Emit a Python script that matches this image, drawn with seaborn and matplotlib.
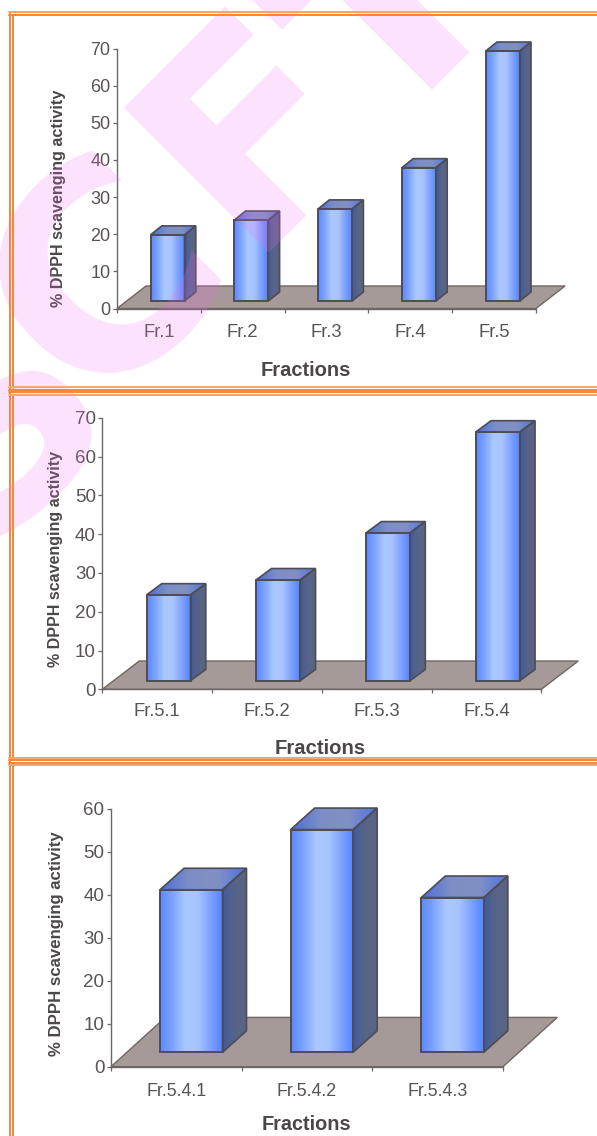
import numpy as np
import pandas as pd
import seaborn as sns
import matplotlib
matplotlib.use("Agg")
import matplotlib.pyplot as plt
from matplotlib.colors import LinearSegmentedColormap
from matplotlib.patches import Polygon
from matplotlib.lines import Line2D

W, H = 597, 1136

# ---------- data ----------
cats1 = ["Fr.1", "Fr.2", "Fr.3", "Fr.4", "Fr.5"]
vals1 = [17.8, 21.8, 24.8, 35.9, 67.3]
cats2 = ["Fr.5.1", "Fr.5.2", "Fr.5.3", "Fr.5.4"]
vals2 = [22.1, 26.0, 38.1, 64.1]
cats3 = ["Fr.5.4.1", "Fr.5.4.2", "Fr.5.4.3"]
vals3 = [37.8, 51.8, 36.0]
ylabel = "% DPPH scavenging activity"
xlabel = "Fractions"

sns.set_theme(style="white")
plt.rcParams["font.family"] = ["Liberation Sans", "DejaVu Sans"]

TXT = "#585354"
TXTB = "#4b4647"
AX = "#6b6767"
EDGE = "#4e4c55"
FRONT = LinearSegmentedColormap.from_list("f", ["#5a88ff", "#7ea4ff", "#aac8ff", "#a8c4ff", "#7ea2ff", "#5384ff"])
SIDE = LinearSegmentedColormap.from_list("s", ["#3f5aa4", "#52628c", "#5a6585", "#586484"])
TOP = LinearSegmentedColormap.from_list("t", ["#4a6fd8", "#7c8ec6", "#8090c4", "#4e74e0"])

fig = plt.figure(figsize=(W / 100, H / 100), dpi=100)


def grad(ax, verts, cmap, zorder):
    verts = np.asarray(verts)
    xs, ys = verts[:, 0], verts[:, 1]
    g = np.linspace(0, 1, 128).reshape(1, -1)
    im = ax.imshow(g, cmap=cmap, aspect="auto", zorder=zorder, interpolation="bilinear",
                   extent=(xs.min(), xs.max(), ys.min(), ys.max()), origin="lower")
    clip = Polygon(verts, closed=True, transform=ax.transData)
    im.set_clip_path(clip)
    im.set_clip_box(fig.bbox)
    ax.add_patch(Polygon(verts, closed=True, fc="none", ec=EDGE, lw=1.2, clip_on=False, zorder=zorder + 0.5))


def panel(cats, vals, ymax, x0, x1, ytop, y0, barw, bar_x0, base, ddx, ddy, fdx, fdy,
          tick_fs, cat_fs, yl_fs, xl_fs, yl_xy, xl_xy, cat_y):
    ax = fig.add_axes([x0 / W, 1 - y0 / H, (x1 - x0) / W, (y0 - ytop) / H])
    ax.patch.set_alpha(0)
    n = len(cats)
    cpx = (x1 - x0) / n
    upx = (y0 - ytop) / ymax
    df = pd.DataFrame({"fraction": cats, "value": vals})
    bottom = base / upx
    sns.barplot(data=df, x="fraction", y="value", ax=ax, width=barw / cpx, bottom=bottom,
                color="#5a88ff", saturation=1, legend=False)
    ax.set_xlim(-0.5, n - 0.5)
    ax.set_ylim(0, ymax)
    ax.autoscale(False)
    dx, dy = ddx / cpx, ddy / upx
    fx, fy = fdx / cpx, fdy / upx
    # floor
    ax.add_patch(Polygon([(-0.5, 0), (n - 0.5, 0), (n - 0.5 + fx, fy), (-0.5 + fx, fy)], closed=True,
                         fc="#a59a97", ec="#6f6664", lw=1.0, clip_on=False, zorder=1))
    shift = (bar_x0 + barw / 2 - (x0 + cpx / 2)) / cpx
    for p in ax.patches[:n]:
        p.set_x(p.get_x() + shift)
        l, r = p.get_x(), p.get_x() + p.get_width()
        b, t = p.get_y(), p.get_y() + p.get_height()
        grad(ax, [(r, b), (r + dx, b + dy), (r + dx, t + dy), (r, t)], SIDE, 3)
        grad(ax, [(l, t), (r, t), (r + dx, t + dy), (l + dx, t + dy)], TOP, 3)
        grad(ax, [(l, b), (r, b), (r, t), (l, t)], FRONT, 3)
        p.set_facecolor("none")
        p.set_edgecolor(EDGE)
        p.set_linewidth(1.2)
        p.set_zorder(4.5)
    for s in ("top", "right"):
        ax.spines[s].set_visible(False)
    for s in ("left", "bottom"):
        ax.spines[s].set_color(AX)
        ax.spines[s].set_linewidth(1.0)
        ax.spines[s].set_zorder(2)
    ax.set_yticks(np.arange(0, ymax + 1, 10))
    ax.set_xticks(np.arange(n + 1) - 0.5, minor=True)
    ax.tick_params(axis="y", left=True, length=3.2, width=0.9, color=AX, labelsize=tick_fs, labelcolor=TXT, pad=1.5)
    ax.tick_params(axis="x", which="major", bottom=False, length=0, labelsize=cat_fs, labelcolor=TXT,
                   pad=(cat_y - y0 - cat_fs * 0.5) * 0.72 + 0.3)
    ax.tick_params(axis="x", which="minor", bottom=True, length=3.2, width=0.9, color=AX)
    ax.set_xlabel("")
    ax.set_ylabel("")
    fig.text(yl_xy[0] / W, 1 - yl_xy[1] / H, ylabel, rotation=90, ha="center", va="center",
             fontsize=yl_fs, fontweight="bold", color=TXTB)
    fig.text(xl_xy[0] / W, 1 - xl_xy[1] / H, xlabel, ha="center", va="center",
             fontsize=xl_fs, fontweight="bold", color=TXTB)
    return ax


panel(cats1, vals1, 70, 117, 536, 48.5, 308.5, 34, 150.5, 7.5, 11.3, 9, 29, 22.5,
      13, 13.2, 11.6, 14.5, (58, 198.5), (305.5, 371), 330)
panel(cats2, vals2, 70, 102.3, 541.3, 417.7, 689.3, 44, 146.5, 8.6, 15.3, 11.3, 37, 28.3,
      13.5, 13.2, 11.55, 14.6, (56, 559), (320, 748), 709)
panel(cats3, vals3, 60, 111, 503, 808.7, 1066.7, 62.5, 160, 14.4, 24, 21.5, 54.3, 49.3,
      13.5, 12.9, 12.05, 14.3, (56.5, 943.7), (306.5, 1124), 1089)

# ---------- orange frames ----------
OR = "#f5853a"
ORL = "#f9a468"


def hline(y, x0=9, c=OR, lw=1.4):
    fig.add_artist(Line2D([x0 / W, 1], [1 - y / H, 1 - y / H], color=c, lw=lw, zorder=6))


def vline(x, y0, y1, c=OR, lw=1.4):
    fig.add_artist(Line2D([x / W, x / W], [1 - y0 / H, 1 - y1 / H], color=c, lw=lw, zorder=6))


vline(9.5, 11.5, 1136)
vline(12.5, 14.5, 387.5)
vline(12.5, 395, 758)
vline(12.5, 765, 1136)
for y, c in [(11.5, ORL), (14.5, OR), (387, ORL), (389.5, OR), (392, OR), (394.8, ORL),
             (757.5, ORL), (760, OR), (762.5, OR), (765, ORL)]:
    hline(y, 9, c)

# ---------- pale watermark, laid over everything like a stamp ----------
wm_letters = ["S", "C", "F", "F", "F"]
wm_xy = [(-20, 548), (92, 411), (243, 253), (406, 90), (256, 30)]
for ch, (px, py) in zip(wm_letters, wm_xy):
    fig.text(px / W, 1 - py / H, ch, rotation=45, rotation_mode="anchor", ha="left", va="baseline",
             fontsize=203, fontweight="bold", family="DejaVu Sans", color="#f06cf0", alpha=0.2, zorder=5)

fig.savefig("out.png", dpi=100)
